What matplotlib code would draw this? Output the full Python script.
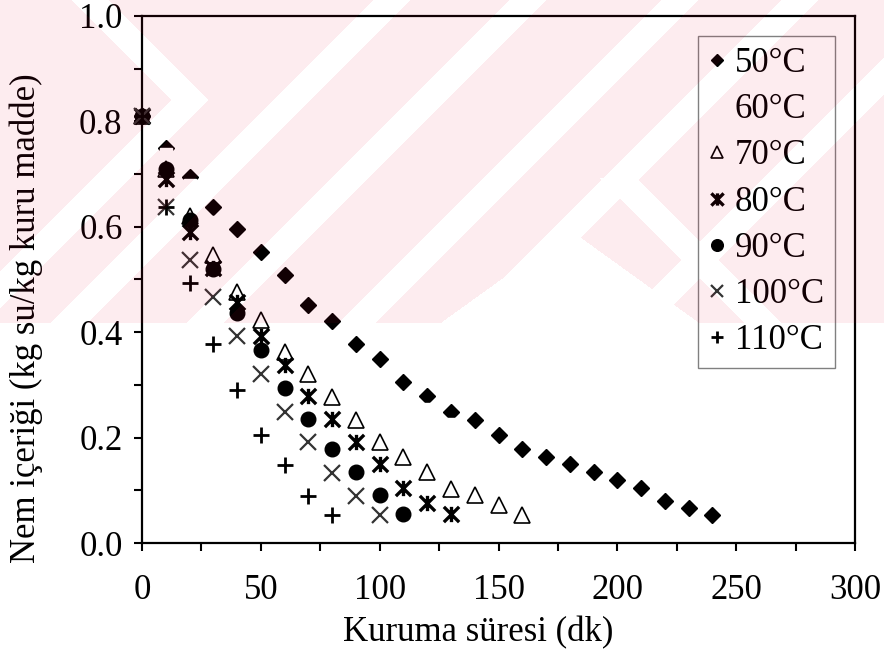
import matplotlib
matplotlib.use('Agg')
import matplotlib.pyplot as plt
from matplotlib.path import Path
from matplotlib.ticker import MultipleLocator, FormatStrFormatter
import numpy as np

# drying time (dk) and moisture content (kg su/kg kuru madde)
t50 = np.arange(0, 250, 10)
m50 = [0.81, 0.75, 0.695, 0.638, 0.595, 0.552, 0.509, 0.452, 0.422, 0.378, 0.350, 0.306, 0.278,
       0.248, 0.234, 0.205, 0.178, 0.164, 0.149, 0.134, 0.120, 0.105, 0.080, 0.066, 0.054]
t60 = np.arange(0, 170, 10)
m60 = [0.81, 0.738, 0.68, 0.61, 0.552, 0.50, 0.45, 0.405, 0.365, 0.33, 0.30, 0.275, 0.255,
       0.225, 0.19, 0.16, 0.135]
t70 = np.arange(0, 170, 10)
m70 = [0.81, 0.71, 0.62, 0.547, 0.476, 0.423, 0.362, 0.321, 0.277, 0.233, 0.192, 0.163, 0.135,
       0.103, 0.091, 0.072, 0.053]
t80 = np.arange(0, 140, 10)
m80 = [0.81, 0.69, 0.59, 0.522, 0.458, 0.393, 0.338, 0.278, 0.235, 0.192, 0.149, 0.105, 0.075, 0.055]
t90 = np.arange(0, 120, 10)
m90 = [0.81, 0.71, 0.612, 0.52, 0.437, 0.366, 0.294, 0.236, 0.178, 0.135, 0.091, 0.055]
t100 = np.arange(0, 110, 10)
m100 = [0.81, 0.638, 0.537, 0.466, 0.393, 0.321, 0.248, 0.191, 0.133, 0.090, 0.053]
t110 = np.arange(0, 90, 10)
m110 = [0.81, 0.638, 0.494, 0.377, 0.290, 0.205, 0.148, 0.090, 0.054]

etiket = ['50°C', '60°C', '70°C', '80°C', '90°C', '100°C', '110°C']

plt.rcParams['font.family'] = ['Liberation Serif', 'DejaVu Serif']
fs = 25

fig = plt.figure(figsize=(8.84, 6.5), dpi=100)
fig.patch.set_facecolor('white')

ax = fig.add_axes([142/884, 1 - 543/650, 713/884, 527/650])
ax.patch.set_alpha(0)

yildiz = Path([(0, -0.5), (0, 0.5), (-0.5, -0.5), (0.5, 0.5), (-0.5, 0.5), (0.5, -0.5)],
              [Path.MOVETO, Path.LINETO, Path.MOVETO, Path.LINETO, Path.MOVETO, Path.LINETO])

ax.plot(t50, m50, ls='none', marker='D', ms=8, color='black', label=etiket[0], clip_on=False)
ax.plot(t60, m60, ls='none', marker='s', ms=9, mfc='white', mec='white', label=etiket[1], clip_on=False)
ax.plot(t70, m70, ls='none', marker='^', ms=11, mfc='white', mec='black', mew=1.2,
        label=etiket[2], clip_on=False)
ax.plot(t80, m80, ls='none', marker=yildiz, ms=11, color='black', mew=2.4,
        label=etiket[3], clip_on=False)
ax.plot(t90, m90, ls='none', marker='o', ms=10.5, color='black', label=etiket[4], clip_on=False)
ax.plot(t100, m100, ls='none', marker='x', ms=11, color='#333333', mew=1.6,
        label=etiket[5], clip_on=False)
ax.plot(t110, m110, ls='none', marker='+', ms=11, color='black', mew=2,
        label=etiket[6], clip_on=False)

ax.set_xlim(0, 300)
ax.set_ylim(0, 1.0)
ax.xaxis.set_major_locator(MultipleLocator(50))
ax.xaxis.set_minor_locator(MultipleLocator(25))
ax.yaxis.set_major_locator(MultipleLocator(0.2))
ax.yaxis.set_minor_locator(MultipleLocator(0.1))
ax.yaxis.set_major_formatter(FormatStrFormatter('%.1f'))
ax.tick_params(which='both', direction='out', length=6, width=1.5, colors='black')
ax.tick_params(axis='x', which='major', labelsize=fs, pad=16)
ax.tick_params(axis='y', which='major', labelsize=fs, pad=8)
for s in ax.spines.values():
    s.set_linewidth(1.6)

fig.text(478/884, 1 - 633/650, 'Kuruma süresi (dk)', ha='center', va='center', fontsize=fs)
fig.text(26/884, 1 - 318/650, 'Nem içeriği (kg su/kg kuru madde)', ha='center', va='center',
         rotation=90, fontsize=fs)

leg = ax.legend(loc='upper right', bbox_to_anchor=(835/884, 1 - 36/650), bbox_transform=fig.transFigure,
                borderaxespad=0, fontsize=fs, frameon=True, fancybox=False, framealpha=1,
                handlelength=0.45, handletextpad=0.3, labelspacing=0.38, borderpad=0.32,
                markerscale=0.8)
leg.get_frame().set_facecolor('none')
leg.get_frame().set_edgecolor('#808080')
leg.get_frame().set_linewidth(1.0)

# watermark laid over the page: faint red band with white stripes (pixel grid)
Y, X = np.mgrid[0:650, 0:884] + 0.5
bant = Y < 323
bos = np.zeros_like(bant)
w = 19
for c in [392, 528, 680, 800, 960]:
    bos |= np.abs(X + Y - c) < w
bos |= (np.abs(X - Y - 90) < w) & (Y < 100)
bos |= (np.abs(X + Y - 290) < w) & (Y >= 100)
bos |= (np.abs(X - Y - 440) < w) & (Y > 178)
bos |= Y >= 230 + 0.72 * np.abs(X - 570)
iz = np.zeros((650, 884, 4))
iz[..., 0] = 240/255
iz[..., 1] = 0
iz[..., 2] = 50/255
iz[..., 3] = np.where(bant & ~bos, 0.075, 0.0)
ust = fig.add_axes([0, 0, 1, 1], zorder=20)
ust.imshow(iz, extent=(0, 884, 650, 0), interpolation='nearest', aspect='auto')
ust.set_xlim(0, 884)
ust.set_ylim(650, 0)
ust.axis('off')

fig.savefig('out.png', dpi=100)
